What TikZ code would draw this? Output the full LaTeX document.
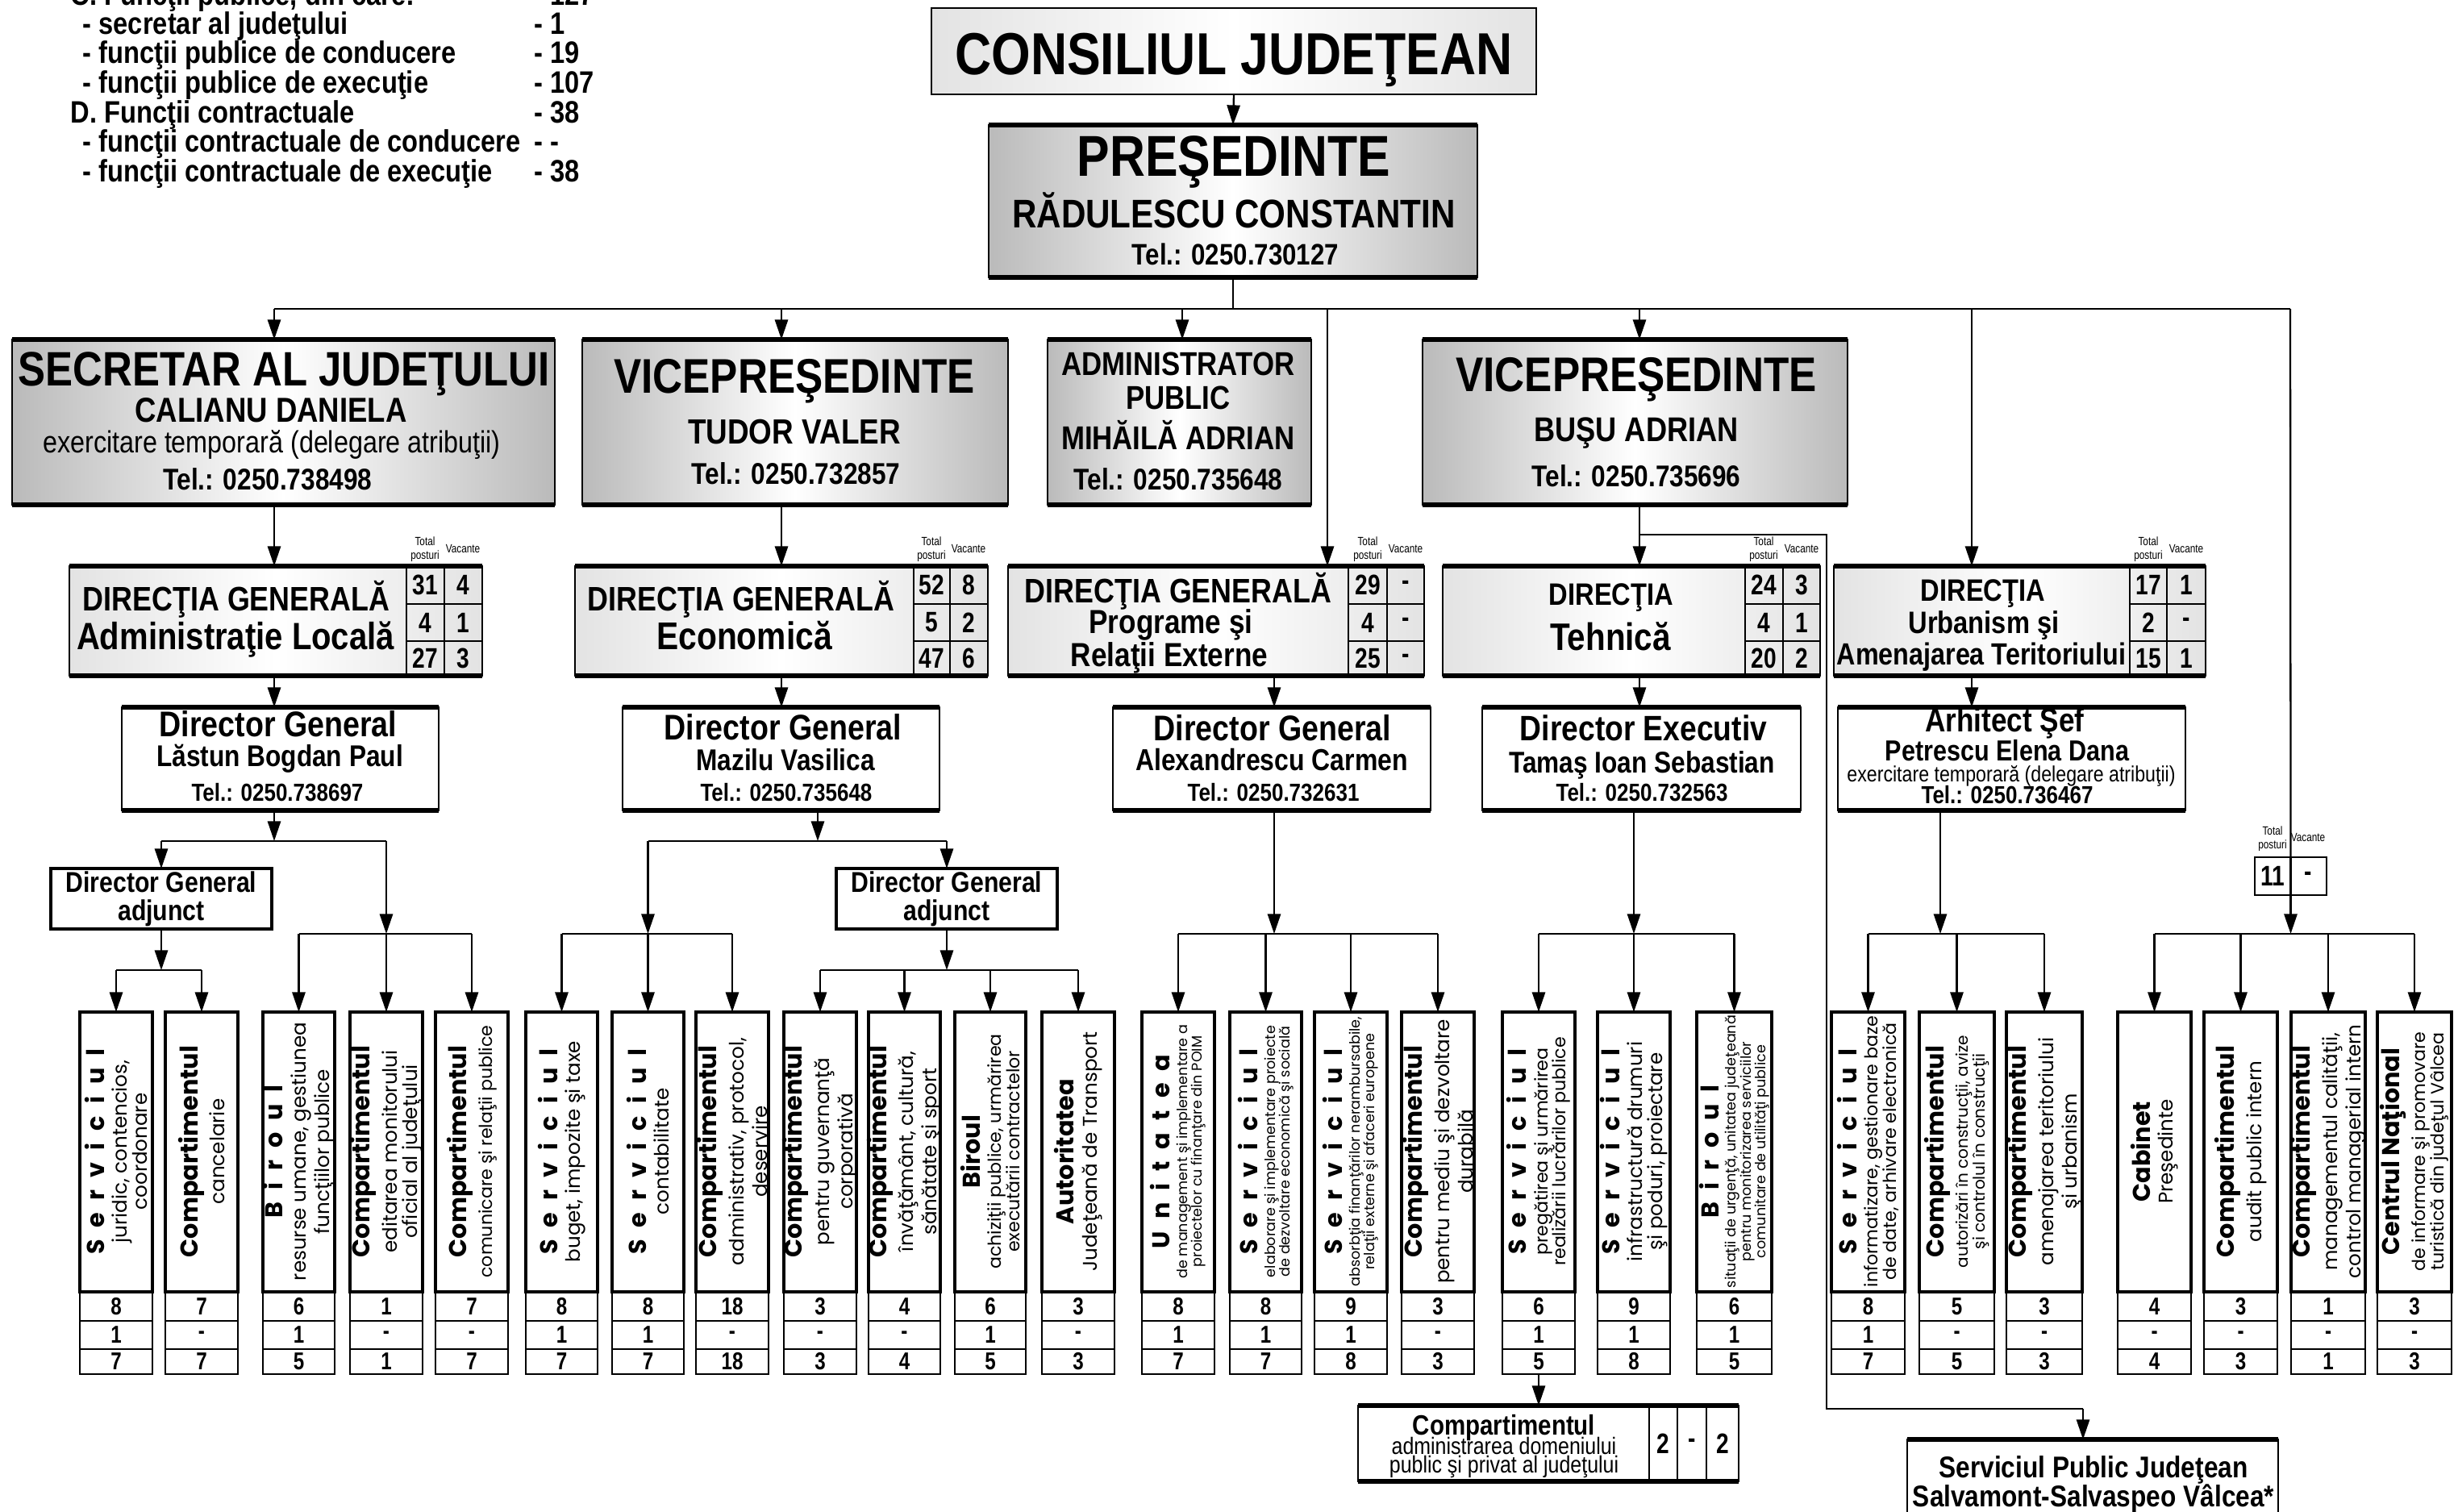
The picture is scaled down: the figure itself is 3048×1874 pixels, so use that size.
\documentclass[tikz,border=0pt]{standalone}
\usepackage{fontspec}
\setmainfont[FakeStretch=0.85]{Liberation Sans}
\newfontfamily\gfont{Poppins}
\newfontfamily\nfont[FakeStretch=0.8]{Liberation Sans}
\usetikzlibrary{arrows.meta}
\newcommand\fz[1]{\fontsize{#1}{#1}\selectfont}
\newcommand\tit{\fontsize{8.6}{8.6}\selectfont\bfseries}
\newcommand\stit{\fontsize{8.6}{8.6}\selectfont\bfseries\addfontfeature{LetterSpace=50}}
\newcommand\sA{\fontsize{7}{7.1}\selectfont}
\newcommand\sB{\fontsize{6.3}{6.5}\selectfont}
\newcommand\sC{\fontsize{5.7}{5.9}\selectfont}
\newcommand\sD{\fontsize{5}{5.2}\selectfont}
\newcounter{tn}
\tikzset{
  arr/.style={-{Triangle[length=7pt,width=4.6pt]}, line width=0.65pt},
  ln/.style={line width=0.65pt},
  bx/.style={draw, line width=0.8pt, inner sep=0pt, outer sep=0pt},
  gfill/.style={left color=black!27, right color=black!27, middle color=white},
  lfill/.style={left color=black!11, right color=black!11, middle color=white},
  txt/.style={inner sep=0pt, anchor=base},
  txtl/.style={inner sep=0pt, anchor=base west},
  cell/.style={draw, line width=0.8pt, inner sep=0pt, outer sep=0pt, font=\nfont\bfseries\fz{10}},
  vcell/.style={draw, line width=0.8pt, inner sep=0pt, outer sep=0pt, font=\nfont\bfseries\fz{8.6}},
  vt/.style={rotate=90, align=center, inner sep=0pt},
  tiny/.style={inner sep=0pt, anchor=base, font=\nfont\fz{4.2}},
}
\newcommand\tx[4]{\stepcounter{tn}\pgfmathsetmacro\fsz{#3*1.176}\node[txt] (t\arabic{tn}) at (#1,#2) {\fontsize{\fsz}{\fsz}\selectfont #4};}
\newcommand\txl[4]{\stepcounter{tn}\pgfmathsetmacro\fsz{#3*1.176}\node[txtl] (t\arabic{tn}) at (#1,#2) {\fontsize{\fsz}{\fsz}\selectfont\bfseries #4};}
\newcommand\bx[6]{\node[bx,#6,minimum width={(#4-#2)*0.1mm},minimum height={(#5-#3)*0.1mm}] (#1) at ({(#2+#4)/2},{(#3+#5)/2}) {};}
\newcommand\tb[1]{\draw[line width=1.6pt] (#1.north west) -- (#1.north east) (#1.south west) -- (#1.south east);}
\newcommand\cel[6]{\node[cell,minimum width={(#3-#2)*0.1mm},minimum height={(#5-#4)*0.1mm}] (#1) at ({(#2+#3)/2},{(#4+#5)/2}) {#6};}
\newcommand\drow[8]{\cel{#1a}{#2}{#3}{#5}{#6}{#7}\cel{#1b}{#3}{#4}{#5}{#6}{#8}}
\newcommand\lab[2]{\stepcounter{tn}\node[tiny] (t\arabic{tn}) at (#1,676) {Total};\stepcounter{tn}\node[tiny] (t\arabic{tn}) at (#1,693) {posturi};\stepcounter{tn}\node[tiny] (t\arabic{tn}) at (#2,685) {Vacante};}
\newcommand\vb[8]{%
 \node[bx,line width=0.9pt,minimum width={(#3-#2)*0.1mm},minimum height=34.7mm] (#1) at ({(#2+#3)/2},1428.5) {};
 \stepcounter{tn}\node[vt,font=\gfont#4] (t\arabic{tn}) at ({(#2+#3)/2},1428) {#5};
 \node[vcell,minimum width={(#3-#2)*0.1mm},minimum height=3.6mm] (#1r1) at ({(#2+#3)/2},1620) {#6};
 \node[vcell,minimum width={(#3-#2)*0.1mm},minimum height=3.5mm] (#1r2) at ({(#2+#3)/2},1655.5) {#7};
 \node[vcell,minimum width={(#3-#2)*0.1mm},minimum height=3.1mm] (#1r3) at ({(#2+#3)/2},1688.5) {#8};
}
\begin{document}
\begin{tikzpicture}[x=0.1mm,y=-0.1mm]
\useasboundingbox (0,0) rectangle (3048,1874);
\begin{scope}
\clip (0,0) rectangle (3048,1874);
\fill[white] (0,0) rectangle (3048,1874);

% ---------- summary text (top left)
\txl{87}{6}{9.3}{C. Funcţii publice, din care:}\txl{662}{6}{9.3}{- 127}
\txl{102}{42}{9.3}{- secretar al judeţului}\txl{662}{42}{9.3}{- 1}
\txl{102}{78}{9.3}{- funcţii publice de conducere}\txl{662}{78}{9.3}{- 19}
\txl{102}{115}{9.3}{- funcţii publice de execuţie}\txl{662}{115}{9.3}{- 107}
\txl{87}{152}{9.3}{D. Funcţii contractuale}\txl{662}{152}{9.3}{- 38}
\txl{102}{188}{9.3}{- funcţii contractuale de conducere}\txl{662}{188}{9.3}{- -}
\txl{102}{225}{9.3}{- funcţii contractuale de execuţie}\txl{662}{225}{9.3}{- 38}

% ---------- top
\bx{cj}{1155}{10}{1905}{117}{lfill}
\tx{1530}{92}{17.8}{\bfseries CONSILIUL JUDEŢEAN}
\bx{pres}{1226}{155}{1832}{344}{gfill}\tb{pres}
\tx{1530}{218}{17.3}{\bfseries PREŞEDINTE}
\tx{1530}{282}{12}{\bfseries RĂDULESCU CONSTANTIN}
\tx{1532}{328}{8.9}{\bfseries Tel.: 0250.730127}

% ---------- second level
\bx{sec}{15}{421}{688}{626}{gfill}\tb{sec}
\tx{352}{478}{14.5}{\bfseries SECRETAR AL JUDEŢULUI}
\tx{336}{523}{10.4}{\bfseries CALIANU DANIELA}
\tx{337}{561}{9.2}{exercitare temporară (delegare atribuţii)}
\tx{332}{607}{9}{\bfseries Tel.: 0250.738498}

\bx{vp1}{722}{421}{1250}{626}{gfill}\tb{vp1}
\tx{985}{487}{14.6}{\bfseries VICEPREŞEDINTE}
\tx{985}{550}{10.5}{\bfseries TUDOR VALER}
\tx{987}{600}{9}{\bfseries Tel.: 0250.732857}

\bx{adm}{1299}{421}{1626}{626}{gfill}\tb{adm}
\tx{1461}{465}{9.9}{\bfseries ADMINISTRATOR}
\tx{1461}{507}{9.9}{\bfseries PUBLIC}
\tx{1461}{557}{9.9}{\bfseries MIHĂILĂ ADRIAN}
\tx{1461}{607}{9}{\bfseries Tel.: 0250.735648}

\bx{vp2}{1764}{421}{2291}{626}{gfill}\tb{vp2}
\tx{2029}{485}{14.6}{\bfseries VICEPREŞEDINTE}
\tx{2029}{547}{10.3}{\bfseries BUŞU ADRIAN}
\tx{2029}{603}{9}{\bfseries Tel.: 0250.735696}

% ---------- directions
\bx{dga}{86}{702}{598}{838}{lfill}\tb{dga}
\tx{293}{757}{10.2}{\bfseries DIRECŢIA GENERALĂ}
\tx{292}{805}{11.4}{\bfseries Administraţie Locală}
\drow{dgaA}{504}{551}{598}{702}{749}{31}{4}
\drow{dgaB}{504}{551}{598}{749}{795}{4}{1}
\drow{dgaC}{504}{551}{598}{795}{838}{27}{3}
\lab{527}{574}

\bx{dge}{713}{702}{1225}{838}{lfill}\tb{dge}
\tx{919}{757}{10.2}{\bfseries DIRECŢIA GENERALĂ}
\tx{923}{805}{11.6}{\bfseries Economică}
\drow{dgeA}{1133}{1178}{1225}{702}{749}{52}{8}
\drow{dgeB}{1133}{1178}{1225}{749}{795}{5}{2}
\drow{dgeC}{1133}{1178}{1225}{795}{838}{47}{6}
\lab{1155}{1201}

\bx{dgp}{1250}{702}{1766}{838}{lfill}\tb{dgp}
\tx{1461}{747}{10.2}{\bfseries DIRECŢIA GENERALĂ}
\tx{1452}{785}{10}{\bfseries Programe şi}
\tx{1450}{826}{10}{\bfseries Relaţii Externe}
\drow{dgpA}{1672}{1720}{1766}{702}{749}{29}{-}
\drow{dgpB}{1672}{1720}{1766}{749}{795}{4}{-}
\drow{dgpC}{1672}{1720}{1766}{795}{838}{25}{-}
\lab{1696}{1743}

\bx{dgt}{1789}{702}{2257}{838}{lfill}\tb{dgt}
\tx{1998}{750}{9.3}{\bfseries DIRECŢIA}
\tx{1997}{806}{11.5}{\bfseries Tehnică}
\drow{dgtA}{2164}{2211}{2257}{702}{749}{24}{3}
\drow{dgtB}{2164}{2211}{2257}{749}{795}{4}{1}
\drow{dgtC}{2164}{2211}{2257}{795}{838}{20}{2}
\lab{2187}{2234}

\bx{dgu}{2274}{702}{2735}{838}{lfill}\tb{dgu}
\tx{2459}{745}{9.3}{\bfseries DIRECŢIA}
\tx{2460}{785}{9.3}{\bfseries Urbanism şi}
\tx{2457}{824}{9.2}{\bfseries Amenajarea Teritoriului}
\drow{dguA}{2641}{2687}{2735}{702}{749}{17}{1}
\drow{dguB}{2641}{2687}{2735}{749}{795}{2}{-}
\drow{dguC}{2641}{2687}{2735}{795}{838}{15}{1}
\lab{2664}{2711}

% ---------- directors
\bx{dra}{151}{877}{544}{1005}{fill=white}\tb{dra}
\tx{345}{913}{10.7}{\bfseries Director General}
\tx{347}{950}{9}{\bfseries Lăstun Bogdan Paul}
\tx{344}{993}{7.4}{\bfseries Tel.: 0250.738697}

\bx{dre}{772}{877}{1165}{1005}{fill=white}\tb{dre}
\tx{971}{917}{10.7}{\bfseries Director General}
\tx{974}{955}{9}{\bfseries Mazilu Vasilica}
\tx{975}{993}{7.4}{\bfseries Tel.: 0250.735648}

\bx{drp}{1380}{877}{1774}{1005}{fill=white}\tb{drp}
\tx{1578}{918}{10.7}{\bfseries Director General}
\tx{1577}{955}{9.1}{\bfseries Alexandrescu Carmen}
\tx{1579}{993}{7.4}{\bfseries Tel.: 0250.732631}

\bx{drt}{1838}{877}{2233}{1005}{fill=white}\tb{drt}
\tx{2038}{918}{10.6}{\bfseries Director Executiv}
\tx{2036}{958}{9}{\bfseries Tamaş Ioan Sebastian}
\tx{2036}{993}{7.4}{\bfseries Tel.: 0250.732563}

\bx{dru}{2279}{877}{2710}{1005}{fill=white}\tb{dru}
\tx{2486}{907}{10}{\bfseries Arhitect Şef}
\tx{2489}{943}{8.7}{\bfseries Petrescu Elena Dana}
\tx{2494}{969}{6.6}{exercitare temporară (delegare atribuţii)}
\tx{2489}{996}{7.4}{\bfseries Tel.: 0250.736467}

% ---------- deputy directors
\bx{dgaa}{63}{1077}{337}{1152}{fill=white,line width=1.1pt}
\tx{200}{1106}{8.6}{\bfseries Director General}
\tx{200}{1141}{8.6}{\bfseries adjunct}
\bx{dgae}{1037}{1077}{1311}{1152}{fill=white,line width=1.1pt}
\tx{1174}{1106}{8.6}{\bfseries Director General}
\tx{1174}{1141}{8.6}{\bfseries adjunct}

% ---------- box 11
\bx{b11}{2796}{1063}{2885}{1110}{fill=white}
\draw[line width=0.8pt] (b11.north) -- (b11.south);
\stepcounter{tn}\node[cell,draw=none] (t\arabic{tn}) at (2818,1086.5) {11};
\stepcounter{tn}\node[cell,draw=none] (t\arabic{tn}) at (2862,1086.5) {-};
\stepcounter{tn}\node[tiny] (t\arabic{tn}) at (2818,1035) {Total};
\stepcounter{tn}\node[tiny] (t\arabic{tn}) at (2818,1052) {posturi};
\stepcounter{tn}\node[tiny] (t\arabic{tn}) at (2862,1043) {Vacante};

% ---------- vertical boxes
\vb{v1}{99}{189}{\sA}{{\stit Serviciul}\\[1pt]juridic, contencios,\\coordonare}{8}{1}{7}
\vb{v2}{205}{295}{\sA}{{\tit Compartimentul}\\[1pt]cancelarie}{7}{-}{7}
\vb{v3}{326}{415}{\sA}{{\stit Biroul}\\[1pt]resurse umane, gestiunea\\funcţiilor publice}{6}{1}{5}
\vb{v4}{434}{524}{\sA}{{\tit Compartimentul}\\[1pt]editarea monitorului\\oficial al judeţului}{1}{-}{1}
\vb{v5}{540}{630}{\sB}{{\tit Compartimentul}\\[1pt]comunicare şi relaţii publice}{7}{-}{7}
\vb{v6}{652}{741}{\sA}{{\stit Serviciul}\\[1pt]buget, impozite şi taxe}{8}{1}{7}
\vb{v7}{759}{848}{\sA}{{\stit Serviciul}\\[1pt]contabilitate}{8}{1}{7}
\vb{v8}{863}{953}{\sA}{{\tit Compartimentul}\\[1pt]administrativ, protocol,\\deservire}{18}{-}{18}
\vb{v9}{972}{1062}{\sA}{{\tit Compartimentul}\\[1pt]pentru guvernanţă\\corporativă}{3}{-}{3}
\vb{v10}{1077}{1166}{\sA}{{\tit Compartimentul}\\[1pt]învăţământ, cultură,\\sănătate şi sport}{4}{-}{4}
\vb{v11}{1184}{1272}{\sB}{{\tit Biroul}\\[1pt]achiziţii publice, urmărirea\\executării contractelor}{6}{1}{5}
\vb{v12}{1292}{1382}{\sA}{{\tit Autoritatea}\\[1pt]Judeţeană de Transport}{3}{-}{3}
\vb{v13}{1416}{1506}{\sD}{{\stit Unitatea}\\[1pt]de management şi implementare a\\proiectelor cu finanţare din POIM}{8}{1}{7}
\vb{v14}{1525}{1614}{\sD}{{\stit Serviciul}\\[1pt]elaborare şi implementare proiecte\\de dezvoltare economică şi socială}{8}{1}{7}
\vb{v15}{1630}{1720}{\sD}{{\stit Serviciul}\\[1pt]absorbţia finanţărilor nerambursabile,\\relaţii externe şi afaceri europene}{9}{1}{8}
\vb{v16}{1738}{1828}{\sA}{{\tit Compartimentul}\\[1pt]pentru mediu şi dezvoltare\\durabilă}{3}{-}{3}
\vb{v17}{1863}{1953}{\sB}{{\stit Serviciul}\\[1pt]pregătirea şi urmărirea\\realizării lucrărilor publice}{6}{1}{5}
\vb{v18}{1981}{2071}{\sA}{{\stit Serviciul}\\[1pt]infrastructură drumuri\\şi poduri, proiectare}{9}{1}{8}
\vb{v19}{2104}{2197}{\sD}{{\stit Biroul}\\[1pt]situaţii de urgenţă, unitatea judeţeană\\pentru monitorizarea serviciilor\\comunitare de utilităţi publice}{6}{1}{5}
\vb{v20}{2271}{2362}{\sB}{{\stit Serviciul}\\[1pt]informatizare, gestionare baze\\de date, arhivare electronică}{8}{1}{7}
\vb{v21}{2380}{2473}{\sC}{{\tit Compartimentul}\\[1pt]autorizări în construcţii, avize\\şi controlul în construcţii}{5}{-}{5}
\vb{v22}{2488}{2582}{\sA}{{\tit Compartimentul}\\[1pt]amenajarea teritoriului\\şi urbanism}{3}{-}{3}
\vb{v23}{2626}{2717}{\sA}{{\tit Cabinet}\\[1pt]Preşedinte}{4}{-}{4}
\vb{v24}{2733}{2824}{\sA}{{\tit Compartimentul}\\[1pt]audit public intern}{3}{-}{3}
\vb{v25}{2841}{2933}{\sA}{{\tit Compartimentul}\\[1pt]managementul calităţii,\\control managerial intern}{1}{-}{1}
\vb{v26}{2948}{3040}{\sB}{{\tit Centrul Naţional}\\[1pt]de informare şi promovare\\turistică din judeţul Vâlcea}{3}{-}{3}

% ---------- bottom boxes
\bx{cad}{1684}{1743}{2156}{1837}{fill=white}\tb{cad}
\tx{1865}{1779}{8.4}{\bfseries Compartimentul}
\tx{1865}{1803}{7.1}{administrarea domeniului}
\tx{1865}{1826}{7.1}{public şi privat al judeţului}
\cel{cadA}{2045}{2080}{1743}{1837}{2}
\cel{cadB}{2080}{2116}{1743}{1837}{-}
\cel{cadC}{2116}{2156}{1743}{1837}{2}

\bx{salv}{2365}{1785}{2825}{1920}{fill=white}\tb{salv}
\tx{2596}{1832}{9}{\bfseries Serviciul Public Judeţean}
\tx{2596}{1868}{9}{\bfseries Salvamont-Salvaspeo Vâlcea*}

% ---------- connectors
\coordinate (busL) at (340,383);
\coordinate (busR) at (2840,383);
\coordinate (xA) at (340,0); \coordinate (xE) at (969,0); \coordinate (xEo) at (1014,0);
\coordinate (xM) at (1466,0); \coordinate (xP) at (1646,0); \coordinate (xPo) at (1580,0);
\coordinate (xT) at (2033,0); \coordinate (xU) at (2445,0); \coordinate (xUo) at (2406,0);
\coordinate (yA) at (0,1043); \coordinate (yB) at (0,1158); \coordinate (yC) at (0,1203);

\draw[arr] (cj.south) -- (pres.north);
\draw[ln] (pres.south) -- (pres.south |- busL);
\draw[ln] (busL) -- (busR);
\draw[arr] (busL) -- (sec.north -| xA);
\draw[arr] (busL -| xE) -- (vp1.north -| xE);
\draw[arr] (busL -| xM) -- (adm.north -| xM);
\draw[arr] (busL -| xP) -- (dgp.north -| xP);
\draw[arr] (busL -| xT) -- (vp2.north -| xT);
\draw[arr] (busL -| xU) -- (dgu.north -| xU);
\draw[ln] (busR) -- (b11.north);

\draw[arr] (sec.south -| xA) -- (dga.north -| xA);
\draw[arr] (dga.south -| xA) -- (dra.north -| xA);
\draw[arr] (vp1.south -| xE) -- (dge.north -| xE);
\draw[arr] (dge.south -| xE) -- (dre.north -| xE);
\draw[arr] (dgp.south -| xPo) -- (drp.north -| xPo);
\draw[arr] (vp2.south -| xT) -- (dgt.north -| xT);
\draw[arr] (dgt.south -| xT) -- (drt.north -| xT);
\draw[arr] (dgu.south -| xU) -- (dru.north -| xU);

% admin
\draw[arr] (dra.south -| xA) -- (xA |- yA);
\draw[ln] (dgaa.north |- yA) -- (v4.north |- yA);
\draw[arr] (dgaa.north |- yA) -- (dgaa.north);
\draw[arr] (v4.north |- yA) -- (v4.north |- yB);
\draw[ln] (v3.north |- yB) -- (v5.north |- yB);
\foreach \q in {v3,v4,v5} \draw[arr] (\q.north |- yB) -- (\q.north);
\draw[arr] (dgaa.south) -- (dgaa.south |- yC);
\draw[ln] (v1.north |- yC) -- (v2.north |- yC);
\foreach \q in {v1,v2} \draw[arr] (\q.north |- yC) -- (\q.north);
% econ
\draw[arr] (dre.south -| xEo) -- (xEo |- yA);
\draw[ln] (v7.north |- yA) -- (dgae.north |- yA);
\draw[arr] (v7.north |- yA) -- (v7.north |- yB);
\draw[ln] (v6.north |- yB) -- (v8.north |- yB);
\foreach \q in {v6,v7,v8} \draw[arr] (\q.north |- yB) -- (\q.north);
\draw[arr] (dgae.north |- yA) -- (dgae.north);
\draw[arr] (dgae.south) -- (dgae.south |- yC);
\draw[ln] (v9.north |- yC) -- (v12.north |- yC);
\foreach \q in {v9,v10,v11,v12} \draw[arr] (\q.north |- yC) -- (\q.north);
% programe
\draw[arr] (drp.south -| xPo) -- (xPo |- yB);
\draw[ln] (v13.north |- yB) -- (v16.north |- yB);
\foreach \q in {v13,v14,v15,v16} \draw[arr] (\q.north |- yB) -- (\q.north);
% tehnica
\draw[arr] (drt.south -| v18.north) -- (v18.north |- yB);
\draw[ln] (v17.north |- yB) -- (v19.north |- yB);
\foreach \q in {v17,v18,v19} \draw[arr] (\q.north |- yB) -- (\q.north);
% urbanism
\draw[arr] (dru.south -| xUo) -- (xUo |- yB);
\draw[ln] (v20.north |- yB) -- (v22.north |- yB);
\foreach \q in {v20,v21,v22} \draw[arr] (\q.north |- yB) -- (\q.north);
% right group
\draw[arr] (b11.south) -- (b11.south |- yB);
\draw[ln] (v23.north |- yB) -- (v26.north |- yB);
\foreach \q in {v23,v24,v25,v26} \draw[arr] (\q.north |- yB) -- (\q.north);
% salvamont
\coordinate (s1) at (2033,663); \coordinate (s2) at (2265,663);
\coordinate (s3) at (2265,1747); \coordinate (s4) at (2583,1747);
\draw[ln] (s1) -- (s2) -- (s3) -- (s4);
\draw[arr] (s4) -- (s4 |- salv.north);
% compartiment
\draw[arr] (v17r3.south) -- (v17r3.south |- cad.north);
\end{scope}
\end{tikzpicture}
\end{document}
